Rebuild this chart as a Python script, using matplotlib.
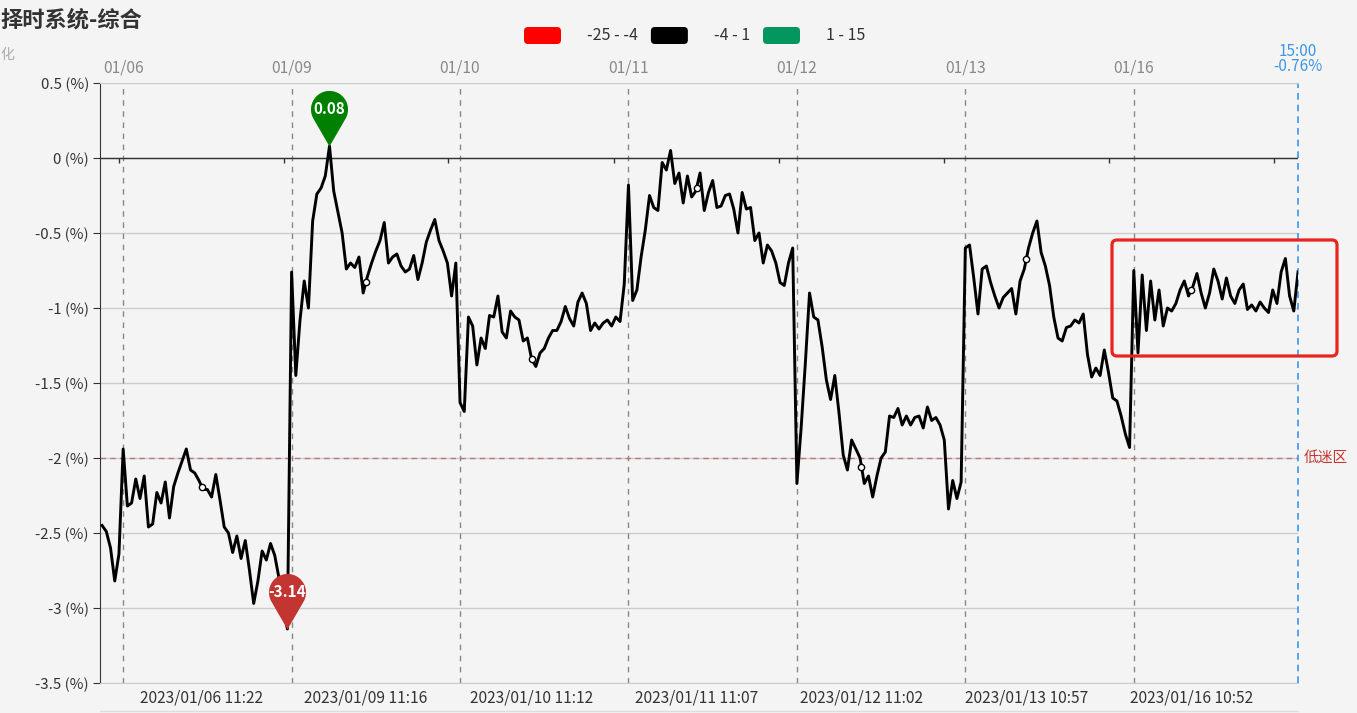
import matplotlib
matplotlib.use("Agg")
import matplotlib.pyplot as plt
import matplotlib.transforms as mtransforms
import numpy as np
from matplotlib.lines import Line2D
from matplotlib.patches import FancyBboxPatch
from matplotlib.path import Path

plt.rcParams["font.family"] = ["Noto Sans CJK SC", "DejaVu Sans"]

TITLE = "择时系统-综合"
AXIS_NAME = "化"
DAYS = ["01/06", "01/09", "01/10", "01/11", "01/12", "01/13", "01/16"]
POINTS_PER_DAY = 40
MINUTES_PER_DAY = 240
CLOSE_TIME = "15:00"

# end of the 01/05 session, shown before the first full day
prev_tail = [-2.45, -2.49, -2.60, -2.82, -2.64]

day_0106 = [-1.94, -2.32, -2.30, -2.14, -2.27, -2.12, -2.46, -2.44, -2.23, -2.30,
            -2.16, -2.40, -2.19, -2.10, -2.02, -1.94, -2.08, -2.10, -2.15, -2.21,
            -2.21, -2.26, -2.11, -2.28, -2.46, -2.50, -2.63, -2.52, -2.67, -2.55,
            -2.75, -2.97, -2.82, -2.62, -2.68, -2.57, -2.65, -2.80, -3.00, -3.14]
day_0109 = [-0.76, -1.45, -1.08, -0.82, -1.00, -0.42, -0.24, -0.20, -0.12, 0.08,
            -0.22, -0.36, -0.50, -0.74, -0.70, -0.73, -0.66, -0.90, -0.79, -0.70,
            -0.62, -0.55, -0.43, -0.70, -0.66, -0.64, -0.72, -0.76, -0.74, -0.65,
            -0.81, -0.70, -0.56, -0.48, -0.41, -0.55, -0.62, -0.70, -0.92, -0.70]
day_0110 = [-1.63, -1.69, -1.06, -1.12, -1.38, -1.20, -1.27, -1.05, -1.06, -0.92,
            -1.16, -1.20, -1.02, -1.06, -1.08, -1.22, -1.20, -1.34, -1.39, -1.30,
            -1.27, -1.20, -1.15, -1.15, -1.09, -0.99, -1.07, -1.12, -0.96, -0.90,
            -0.97, -1.15, -1.10, -1.14, -1.10, -1.08, -1.12, -1.06, -1.09, -0.84]
day_0111 = [-0.18, -0.95, -0.88, -0.66, -0.48, -0.25, -0.33, -0.35, -0.03, -0.08,
            0.05, -0.17, -0.10, -0.30, -0.12, -0.26, -0.22, -0.10, -0.35, -0.23,
            -0.15, -0.33, -0.32, -0.25, -0.24, -0.34, -0.50, -0.23, -0.34, -0.33,
            -0.55, -0.50, -0.70, -0.58, -0.62, -0.70, -0.83, -0.85, -0.70, -0.60]
day_0112 = [-2.17, -1.80, -1.37, -0.90, -1.06, -1.08, -1.26, -1.48, -1.61, -1.45,
            -1.70, -1.98, -2.08, -1.88, -1.94, -2.00, -2.17, -2.12, -2.26, -2.12,
            -2.00, -1.96, -1.72, -1.73, -1.67, -1.78, -1.72, -1.78, -1.73, -1.72,
            -1.80, -1.66, -1.75, -1.73, -1.78, -1.88, -2.34, -2.15, -2.27, -2.16]
day_0113 = [-0.60, -0.58, -0.80, -1.04, -0.74, -0.72, -0.83, -0.92, -1.00, -0.93,
            -0.90, -0.87, -1.04, -0.82, -0.74, -0.60, -0.50, -0.42, -0.63, -0.72,
            -0.85, -1.06, -1.20, -1.22, -1.13, -1.12, -1.08, -1.10, -1.04, -1.31,
            -1.46, -1.40, -1.45, -1.28, -1.43, -1.60, -1.62, -1.72, -1.84, -1.93]
day_0116 = [-0.75, -1.30, -0.78, -1.15, -0.82, -1.08, -0.88, -1.12, -1.00, -1.02,
            -0.97, -0.88, -0.82, -0.92, -0.86, -0.77, -0.90, -1.00, -0.90, -0.74,
            -0.82, -0.94, -0.80, -0.92, -0.97, -0.88, -0.84, -1.01, -0.98, -1.02,
            -0.96, -1.00, -1.03, -0.88, -0.97, -0.76, -0.67, -0.92, -1.02, -0.76]

axis_labels = ["2023/01/06 11:22", "2023/01/09 11:16", "2023/01/10 11:12",
               "2023/01/11 11:07", "2023/01/12 11:02", "2023/01/13 10:57",
               "2023/01/16 10:52"]

y_ticks = [-3.5, -3.0, -2.5, -2.0, -1.5, -1.0, -0.5, 0.0, 0.5]
low_zone = -2.0
low_zone_label = "低迷区"

legend_ranges = ["-25 - -4", "-4 - 1", "1 - 15"]
legend_colors = ["#ff0000", "#000000", "#03965f"]

BG = "#f4f4f4"
W, H = 1357, 713


def label_index(label: str) -> float:
    day, clock = label.split(" ")
    d = DAYS.index(day[5:])
    hh, mm = map(int, clock.split(":"))
    minutes = hh * 60 + mm - (9 * 60 + 30)
    return len(prev_tail) + d * POINTS_PER_DAY + minutes * POINTS_PER_DAY / MINUTES_PER_DAY


def pin_marker() -> Path:
    r, d = 1.0, 2.0
    phi = np.degrees(np.arccos(r / d))
    ang = np.radians(np.linspace(-90 + phi, 270 - phi, 60))
    verts = [(0.0, 0.0)] + [(r * np.cos(a), d + r * np.sin(a)) for a in ang] + [(0.0, 0.0)]
    codes = [Path.MOVETO] + [Path.LINETO] * (len(verts) - 2) + [Path.CLOSEPOLY]
    return Path(verts, codes)


values = np.array(prev_tail + day_0106 + day_0109 + day_0110 + day_0111
                  + day_0112 + day_0113 + day_0116)
x = np.arange(len(values))
day_starts = [len(prev_tail) + k * POINTS_PER_DAY for k in range(len(DAYS))]

fig = plt.figure(figsize=(W / 100, H / 100), dpi=100, facecolor=BG)
ax = fig.add_axes([100 / W, 1 - 683 / H, 1198 / W, 600 / H], facecolor=BG)
ax.set_xlim(-0.5, x[-1])
ax.set_ylim(min(y_ticks), max(y_ticks))

for side in ["top", "bottom"]:
    ax.spines[side].set_color("#cccccc")
ax.spines["right"].set_visible(False)
ax.spines["left"].set_color("#333333")

ax.set_yticks(y_ticks)
ax.set_yticklabels([f"{v + 0.0:g} (%)" for v in y_ticks])
ax.tick_params(axis="y", length=5, color="#333333", labelcolor="#333333", labelsize=10.8, pad=3)
ax.grid(axis="y", color="#cccccc", lw=1)
ax.set_axisbelow(True)
ax.axhline(0, color="#333333", lw=1, zorder=2)

# category labels at the bottom, ticks on the zero line between them
lab_idx = np.array([label_index(s) for s in axis_labels])
ax.set_xticks(lab_idx)
ax.set_xticklabels(axis_labels)
ax.tick_params(axis="x", length=0, labelsize=11.2, labelcolor="#333333", pad=5)
step = np.diff(lab_idx).mean()
tick_idx = np.concatenate([[lab_idx[0] - step / 2], lab_idx + step / 2])
ax.vlines(tick_idx, -0.03, 0, color="#333333", lw=1, zorder=2)

# day separators with day labels above the plot
top = mtransforms.blended_transform_factory(ax.transData, ax.transAxes)
for k, s in enumerate(day_starts):
    ax.axvline(s, color="#888888", lw=1, ls=(0, (4, 4)), zorder=1)
    ax.text(s, 1.025, DAYS[k], transform=top, ha="center", va="center",
            fontsize=11.3, color="#888888")

# low zone
ax.axhline(low_zone, color="#b87878", lw=1, ls=(0, (4, 3)), zorder=1)
right = mtransforms.blended_transform_factory(ax.transAxes, ax.transData)
ax.text(1.005, low_zone, low_zone_label, transform=right, ha="left", va="center",
        fontsize=10.6, color="#c23531")

# last point marker line
ax.axvline(x[-1], color="#3d97e6", lw=1.2, ls=(0, (4, 3)), zorder=1, clip_on=False)
ax.text(x[-1], 1.0517, CLOSE_TIME, transform=top, ha="center", va="center",
        fontsize=11, color="#3d97e6")
ax.text(x[-1], 1.0267, f"{values[-1]:.2f}%", transform=top, ha="center", va="center",
        fontsize=11, color="#3d97e6")

ax.plot(x, values, color="black", lw=2.1, zorder=3, solid_joinstyle="round")
ax.plot(lab_idx, np.interp(lab_idx, x, values), ls="none", marker="o", ms=4.5,
        mfc="white", mec="black", mew=1, zorder=4)

# max / min pins
pin = pin_marker()
for i, color in [(int(np.argmax(values)), "#008000"), (int(np.argmin(values)), "#c23531")]:
    ax.plot([x[i]], [values[i]], ls="none", marker=pin, ms=80, color=color,
            mec="none", zorder=5, clip_on=False)
    ax.annotate(f"{values[i]:.2f}", xy=(x[i], values[i]), xytext=(0, 26.5),
                textcoords="offset points", ha="center", va="center",
                color="white", fontsize=11, fontweight="bold", zorder=6)

# visual map legend
renderer = fig.canvas.get_renderer()
px = fig.dpi_scale_trans
lx = 524
for label, color in zip(legend_ranges, legend_colors):
    fig.add_artist(FancyBboxPatch((lx / 100, (H - 44) / 100), 0.37, 0.17,
                                  boxstyle="round,pad=0,rounding_size=0.04",
                                  transform=px, fc=color, ec="none"))
    t = fig.text((lx + 63) / W, 1 - 35 / H, label, ha="left", va="center",
                 fontsize=11.5, color="#333333")
    bb = t.get_window_extent(renderer)
    lx = bb.x1 + 13

fig.text(0, 1 - 20 / H, TITLE, ha="left", va="center", fontsize=16,
         fontweight="bold", color="#333333")
fig.text(0, 1 - 55 / H, AXIS_NAME, ha="left", va="center", fontsize=10, color="#aaaaaa")

# highlight box around the last session
fig.add_artist(FancyBboxPatch((11.12, (H - 356) / 100), 2.25, 1.16,
                              boxstyle="round,pad=0,rounding_size=0.05",
                              transform=px, fc="none", ec="#e8241c", lw=2.3))
fig.add_artist(Line2D([100 / W, 1298 / W], [1 - 711 / H] * 2, color="#dddddd", lw=1))

fig.savefig("out.png", dpi=100, facecolor=BG)
